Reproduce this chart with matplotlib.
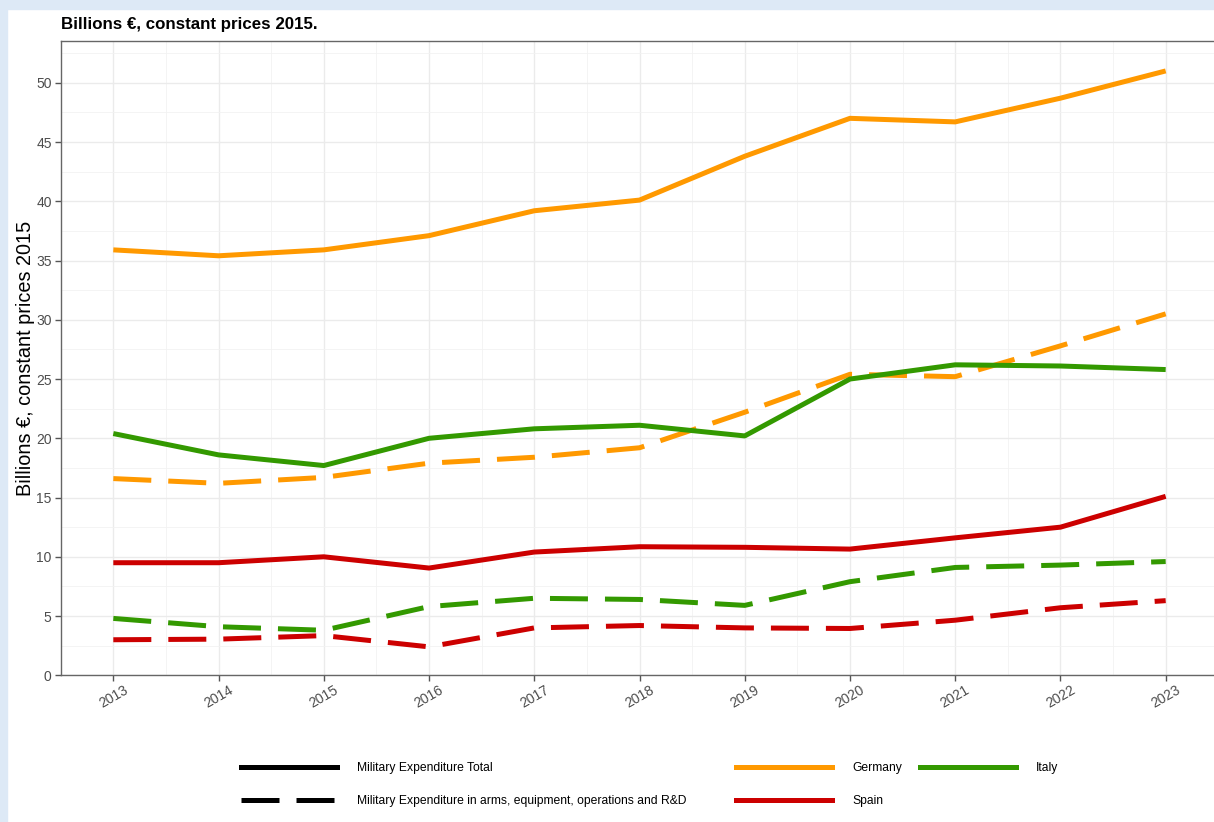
import matplotlib
matplotlib.use("Agg")
import matplotlib.pyplot as plt
from matplotlib.lines import Line2D
from matplotlib.patches import Rectangle
from matplotlib.ticker import MultipleLocator

plt.rcParams["font.family"] = ["Liberation Sans", "DejaVu Sans"]

# billions of euros, constant 2015 prices
years = list(range(2013, 2024))
germany_total = [35.9, 35.4, 35.9, 37.1, 39.2, 40.1, 43.8, 47.0, 46.7, 48.7, 51.0]
germany_equip = [16.6, 16.2, 16.7, 17.9, 18.4, 19.2, 22.2, 25.4, 25.2, 27.8, 30.5]
italy_total = [20.4, 18.6, 17.7, 20.0, 20.8, 21.1, 20.2, 25.0, 26.2, 26.1, 25.8]
italy_equip = [4.8, 4.1, 3.8, 5.8, 6.5, 6.4, 5.9, 7.9, 9.1, 9.3, 9.6]
spain_total = [9.5, 9.5, 10.0, 9.05, 10.4, 10.85, 10.8, 10.65, 11.6, 12.5, 15.1]
spain_equip = [3.0, 3.05, 3.35, 2.4, 4.0, 4.2, 4.0, 3.95, 4.65, 5.7, 6.3]

countries = ["Germany", "Italy", "Spain"]
colors = {"Germany": "#ff9900", "Italy": "#339900", "Spain": "#cc0000"}
series = {
    "Germany": (germany_total, germany_equip),
    "Italy": (italy_total, italy_equip),
    "Spain": (spain_total, spain_equip),
}
kinds = ["Military Expenditure Total",
         "Military Expenditure in arms, equipment, operations and R&D"]

LW = 3.6
DASH = (0, (7.6, 3.4))

W, H = 1214, 822
fig = plt.figure(figsize=(W / 100, H / 100), dpi=100, facecolor="white")
# pale frame along the top and left edges
fig.patches.append(Rectangle((0, 1 - 9 / H), 1, 9 / H, transform=fig.transFigure,
                             color="#dde9f6", zorder=0))
fig.patches.append(Rectangle((0, 0), 7 / W, 1, transform=fig.transFigure,
                             color="#dde9f6", zorder=0))

ax = fig.add_axes([60.7 / W, 1 - 675.3 / H, 1157.6 / W, 634 / H])
for c in countries:
    tot, eq = series[c]
    ax.plot(years, tot, color=colors[c], lw=LW, solid_capstyle="butt", zorder=3)
    ax.plot(years, eq, color=colors[c], lw=LW, ls=DASH, dash_capstyle="butt", zorder=3)

ax.set_xlim(2012.5, 2023.5)
ax.set_ylim(0, 53.5)
ax.xaxis.set_major_locator(MultipleLocator(1))
ax.xaxis.set_minor_locator(MultipleLocator(0.5))
ax.yaxis.set_major_locator(MultipleLocator(5))
ax.yaxis.set_minor_locator(MultipleLocator(2.5))
ax.grid(True, which="major", color="#ebebeb", lw=1.0)
ax.grid(True, which="minor", color="#f2f2f2", lw=0.6)
ax.set_axisbelow(True)
for side in ("left", "bottom", "top", "right"):
    ax.spines[side].set_color("#666666")
    ax.spines[side].set_linewidth(1.0)
ax.tick_params(which="major", length=4, width=1, color="#555555",
               labelcolor="#4d4d4d", labelsize=10)
ax.tick_params(axis="y", which="major", pad=2.5)
ax.tick_params(axis="x", which="major", pad=1.5)
ax.tick_params(which="minor", length=0)
for lab in ax.get_xticklabels():
    lab.set_rotation(30)
    lab.set_ha("center")

fig.text(26 / W, 1 - 358 / H, "Billions €, constant prices 2015", fontsize=14.3,
         rotation=90, ha="center", va="center")
fig.text(60.7 / W, 1 - 24 / H, "Billions €, constant prices 2015.",
         fontsize=12.2, fontweight="bold", va="center", ha="left")

# legends below the panel: line type and country colour
type_handles = [Line2D([], [], color="black", lw=LW),
                Line2D([], [], color="black", lw=LW, ls=DASH)]
leg_kw = dict(frameon=False, fontsize=8.7, handlelength=7.95, handletextpad=1.66,
              labelspacing=1.75, borderpad=0, borderaxespad=0)
fig.legend(type_handles, kinds, loc="center left",
           bbox_to_anchor=(241 / W, 1 - 784.5 / H), **leg_kw)

order = ["Germany", "Spain", "Italy"]
col_handles = [Line2D([], [], color=colors[c], lw=LW) for c in order]
fig.legend(col_handles, order, loc="center left", ncol=2,
           bbox_to_anchor=(736 / W, 1 - 784.5 / H), columnspacing=1.5, **leg_kw)

fig.savefig("out.png", dpi=100, facecolor="white")
